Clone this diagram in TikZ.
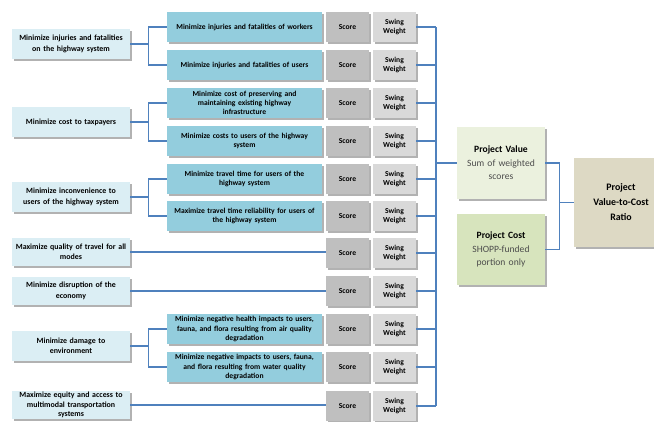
\documentclass[tikz,border=0pt]{standalone}
\usepackage{fontspec}
\setmainfont{Carlito}
\usepackage{tikz}
\usetikzlibrary{shapes, arrows, positioning, shadows}

\definecolor{goalblue}{HTML}{DBEEF4}
\definecolor{subblue}{HTML}{93CDDD}
\definecolor{scoregray}{HTML}{BFBFBF}
\definecolor{weightgray}{HTML}{D9D9D9}
\definecolor{valuegreen}{HTML}{EBF1DE}
\definecolor{costgreen}{HTML}{D7E4BD}
\definecolor{ratiotan}{HTML}{DDD9C4}
\definecolor{linkblue}{HTML}{4F81BD}

\begin{document}
\begin{tikzpicture}[x=1pt, y=-1pt,
    box/.style={inner sep=1pt, align=center,
        drop shadow={shadow xshift=1.5pt, shadow yshift=-1.5pt, opacity=0.5, fill=black!60}},
    goal/.style={box, fill=goalblue, minimum width=118pt, minimum height=30pt, text width=114pt,
        font=\fontsize{7.9}{10.5}\selectfont\bfseries},
    subgoal/.style={box, fill=subblue, minimum width=155pt, minimum height=30pt, text width=152pt,
        font=\fontsize{7.6}{9.3}\selectfont\bfseries},
    scorebox/.style={box, fill=scoregray, minimum width=43pt, minimum height=30pt,
        font=\fontsize{7.6}{9}\selectfont\bfseries},
    weightbox/.style={box, fill=weightgray, minimum width=43pt, minimum height=30pt,
        font=\fontsize{7.6}{9.5}\selectfont\bfseries},
    bigbox/.style={box, minimum width=88pt, minimum height=72pt, text width=86pt,
        font=\fontsize{9.6}{13.5}\selectfont},
    link/.style={draw=linkblue, line width=1.3pt}]

    \useasboundingbox (0,0) rectangle (654,421);

    % objectives
    \node[goal] (l1) at (71,44) {Minimize injuries and fatalities\\on the highway system};
    \node[goal] (l2) at (71,122) {Minimize cost to taxpayers};
    \node[goal] (l3) at (71,197) {Minimize inconvenience to\\users of the highway system};
    \node[goal, minimum height=28pt] (l4) at (71,252) {Maximize quality of travel for all\\modes};
    \node[goal, minimum height=28pt] (l5) at (71,291) {Minimize disruption of the\\economy};
    \node[goal] (l6) at (71,346) {Minimize damage to\\environment};
    \node[goal, minimum height=28pt, font=\fontsize{7.9}{9.4}\selectfont\bfseries] (l7) at (71,405) {Maximize equity and access to\\multimodal transportation\\systems};

    % sub-objectives
    \node[subgoal] (m1) at (244.5,27) {Minimize injuries and fatalities of workers};
    \node[subgoal] (m2) at (244.5,65) {Minimize injuries and fatalities of users};
    \node[subgoal] (m3) at (244.5,103) {Minimize cost of preserving and\\maintaining existing highway\\infrastructure};
    \node[subgoal] (m4) at (244.5,141) {Minimize costs to users of the highway\\system};
    \node[subgoal] (m5) at (244.5,179) {Minimize travel time for users of the\\highway system};
    \node[subgoal] (m6) at (244.5,216) {Maximize travel time reliability for users of\\the highway system};
    \node[subgoal] (m7) at (244.5,329) {Minimize negative health impacts to users,\\fauna, and flora resulting from air quality\\degradation};
    \node[subgoal] (m8) at (244.5,367) {Minimize negative impacts to users, fauna,\\and flora resulting from water quality\\degradation};

    \coordinate (bus) at (436,0);

    % score and weight columns
    \foreach \y [count=\i] in {27,65,103,141,179,216,253,291,329,367,406} {
        \node[scorebox] (s\i) at (347.5,\y) {Score};
        \node[weightbox] (w\i) at (394.5,\y) {Swing\\Weight};
        \draw[link] (w\i.east) -- (w\i.east -| bus);
    }
    \draw[link] (w1.east -| bus) -- (w11.east -| bus);

    % objective to sub-objective
    \draw[link] (l1.east) -- ++(18,0) |- (m1.west);
    \draw[link] (l1.east) -- ++(18,0) |- (m2.west);
    \draw[link] (l2.east) -- ++(18,0) |- (m3.west);
    \draw[link] (l2.east) -- ++(18,0) |- (m4.west);
    \draw[link] (l3.east) -- ++(18,0) |- (m5.west);
    \draw[link] (l3.east) -- ++(18,0) |- (m6.west);
    \draw[link] (l6.east) -- ++(18,0) |- (m7.west);
    \draw[link] (l6.east) -- ++(18,0) |- (m8.west);
    \draw[link] (l4.east) -- (l4.east -| s7.west);
    \draw[link] (l5.east) -- (l5.east -| s8.west);
    \draw[link] (l7.east) -- (l7.east -| s11.west);

    % value, cost and ratio
    \node[bigbox, fill=valuegreen] (value) at (501,163) {\textbf{Project Value}\\\textcolor{black!70}{Sum of weighted\\scores}};
    \node[bigbox, fill=costgreen, minimum height=71pt] (cost) at (501,249.5) {\textbf{Project Cost}\\\textcolor{black!70}{SHOPP-funded\\portion only}};
    \node[box, fill=ratiotan, minimum width=94pt, minimum height=89pt, text width=90pt,
        font=\fontsize{9.9}{15}\selectfont\bfseries] (ratio) at (621,202.5) {Project\\Value-to-Cost\\Ratio};

    \draw[link] (bus |- value.west) -- (value.west);
    \draw[link] (value.east) -- ++(14,0) |- (cost.east);
    \draw[link] (value.east) ++(14,0) |- (ratio.west);
\end{tikzpicture}
\end{document}
